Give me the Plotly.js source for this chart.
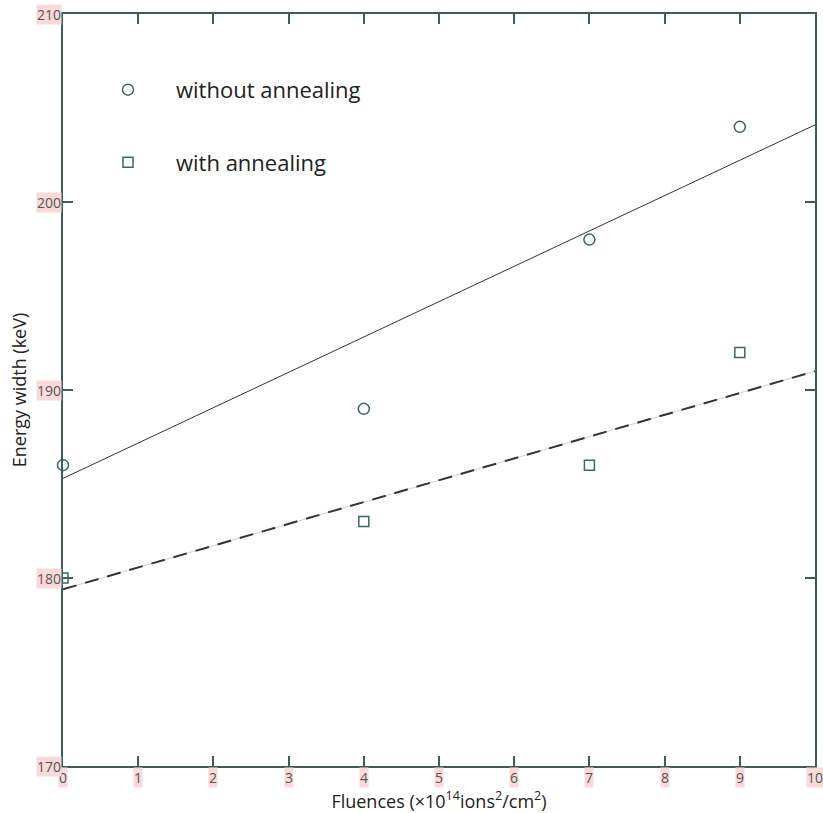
<!DOCTYPE html>
<html>
<head>
<meta charset="utf-8">
<script src="https://cdn.plot.ly/plotly-3.0.1.min.js"></script>
<style>html,body{margin:0;padding:0;background:#fff;}#chart{width:823px;height:813px;}</style>
</head>
<body>
<div id="chart"></div>
<script>
// Data
const fluence = [0, 4, 7, 9];
const widthWithout = [186, 189, 198, 204];
const widthWith = [180, 183, 186, 192];
const fitX = [0, 10];
const fitWithout = [185.3, 204.1];
const fitWith = [179.4, 191.0];
const xTicks = [0, 1, 2, 3, 4, 5, 6, 7, 8, 9, 10];
const yTicks = [170, 180, 190, 200, 210];
const legendLabels = ["without annealing", "with annealing"];

const axisColor = '#3d5c5a';
const markColor = '#3d6664';
const tickBg = '#fad9da';
const tickFont = {family: 'Open Sans, sans-serif', size: 14, color: '#555'};

const traces = [
  {x: fitX, y: fitWithout, mode: 'lines', line: {color: '#333', width: 1}, showlegend: false, hoverinfo: 'skip'},
  {x: fitX, y: fitWith, mode: 'lines', line: {color: '#bbb', width: 0.7}, showlegend: false, hoverinfo: 'skip'},
  {x: fitX, y: fitWith, mode: 'lines', line: {color: '#333', width: 2, dash: '14px,9px'}, showlegend: false, hoverinfo: 'skip'},
  {x: fluence, y: widthWithout, mode: 'markers', name: legendLabels[0], legendgroup: 'a',
   marker: {symbol: 'circle-open', size: 11, color: markColor, line: {width: 1.5, color: markColor}}, cliponaxis: false},
  {x: fluence, y: widthWith, mode: 'markers', name: legendLabels[1], legendgroup: 'b',
   marker: {symbol: 'square-open', size: 10, color: markColor, line: {width: 1.5, color: markColor}}, cliponaxis: false}
];

const annotations = [];
xTicks.forEach(v => annotations.push({x: v, y: 0, xref: 'x', yref: 'paper', yanchor: 'top', yshift: -1,
  text: String(v), showarrow: false, font: tickFont, bgcolor: tickBg, borderpad: 0}));
yTicks.forEach(v => annotations.push({x: 0, y: v, xref: 'paper', yref: 'y', xanchor: 'right', xshift: -1,
  text: String(v), showarrow: false, font: tickFont, bgcolor: tickBg, borderpad: 0}));

const layout = {
  width: 823, height: 813,
  margin: {l: 63, r: 8, t: 14, b: 47},
  paper_bgcolor: '#fff', plot_bgcolor: '#fff',
  font: {family: 'Open Sans, sans-serif', color: '#222'},
  xaxis: {range: [0, 10], tickvals: xTicks, showticklabels: false, ticks: 'inside', ticklen: 10, tickwidth: 2,
    tickcolor: axisColor, showline: true, linecolor: axisColor, linewidth: 2, mirror: 'ticks',
    showgrid: false, zeroline: false,
    title: {text: 'Fluences (×10<sup>14</sup>ions<sup>2</sup>/cm<sup>2</sup>)', font: {size: 18, color: '#222'}, standoff: 30}},
  yaxis: {range: [170, 210], tickvals: yTicks, showticklabels: false, ticks: 'inside', ticklen: 10, tickwidth: 2,
    tickcolor: axisColor, showline: true, linecolor: axisColor, linewidth: 2, mirror: 'ticks',
    showgrid: false, zeroline: false,
    title: {text: 'Energy width (keV)', font: {size: 18, color: '#222'}, standoff: 30}},
  showlegend: true,
  legend: {x: 0.0226, y: 0.927, xanchor: 'left', yanchor: 'top', bgcolor: 'rgba(0,0,0,0)',
    font: {size: 22, color: '#222', family: 'Open Sans, sans-serif'}, traceorder: 'grouped', tracegroupgap: 41, itemwidth: 86},
  annotations: annotations
};

Plotly.newPlot('chart', traces, layout, {displayModeBar: false, staticPlot: true});
</script>
</body>
</html>
